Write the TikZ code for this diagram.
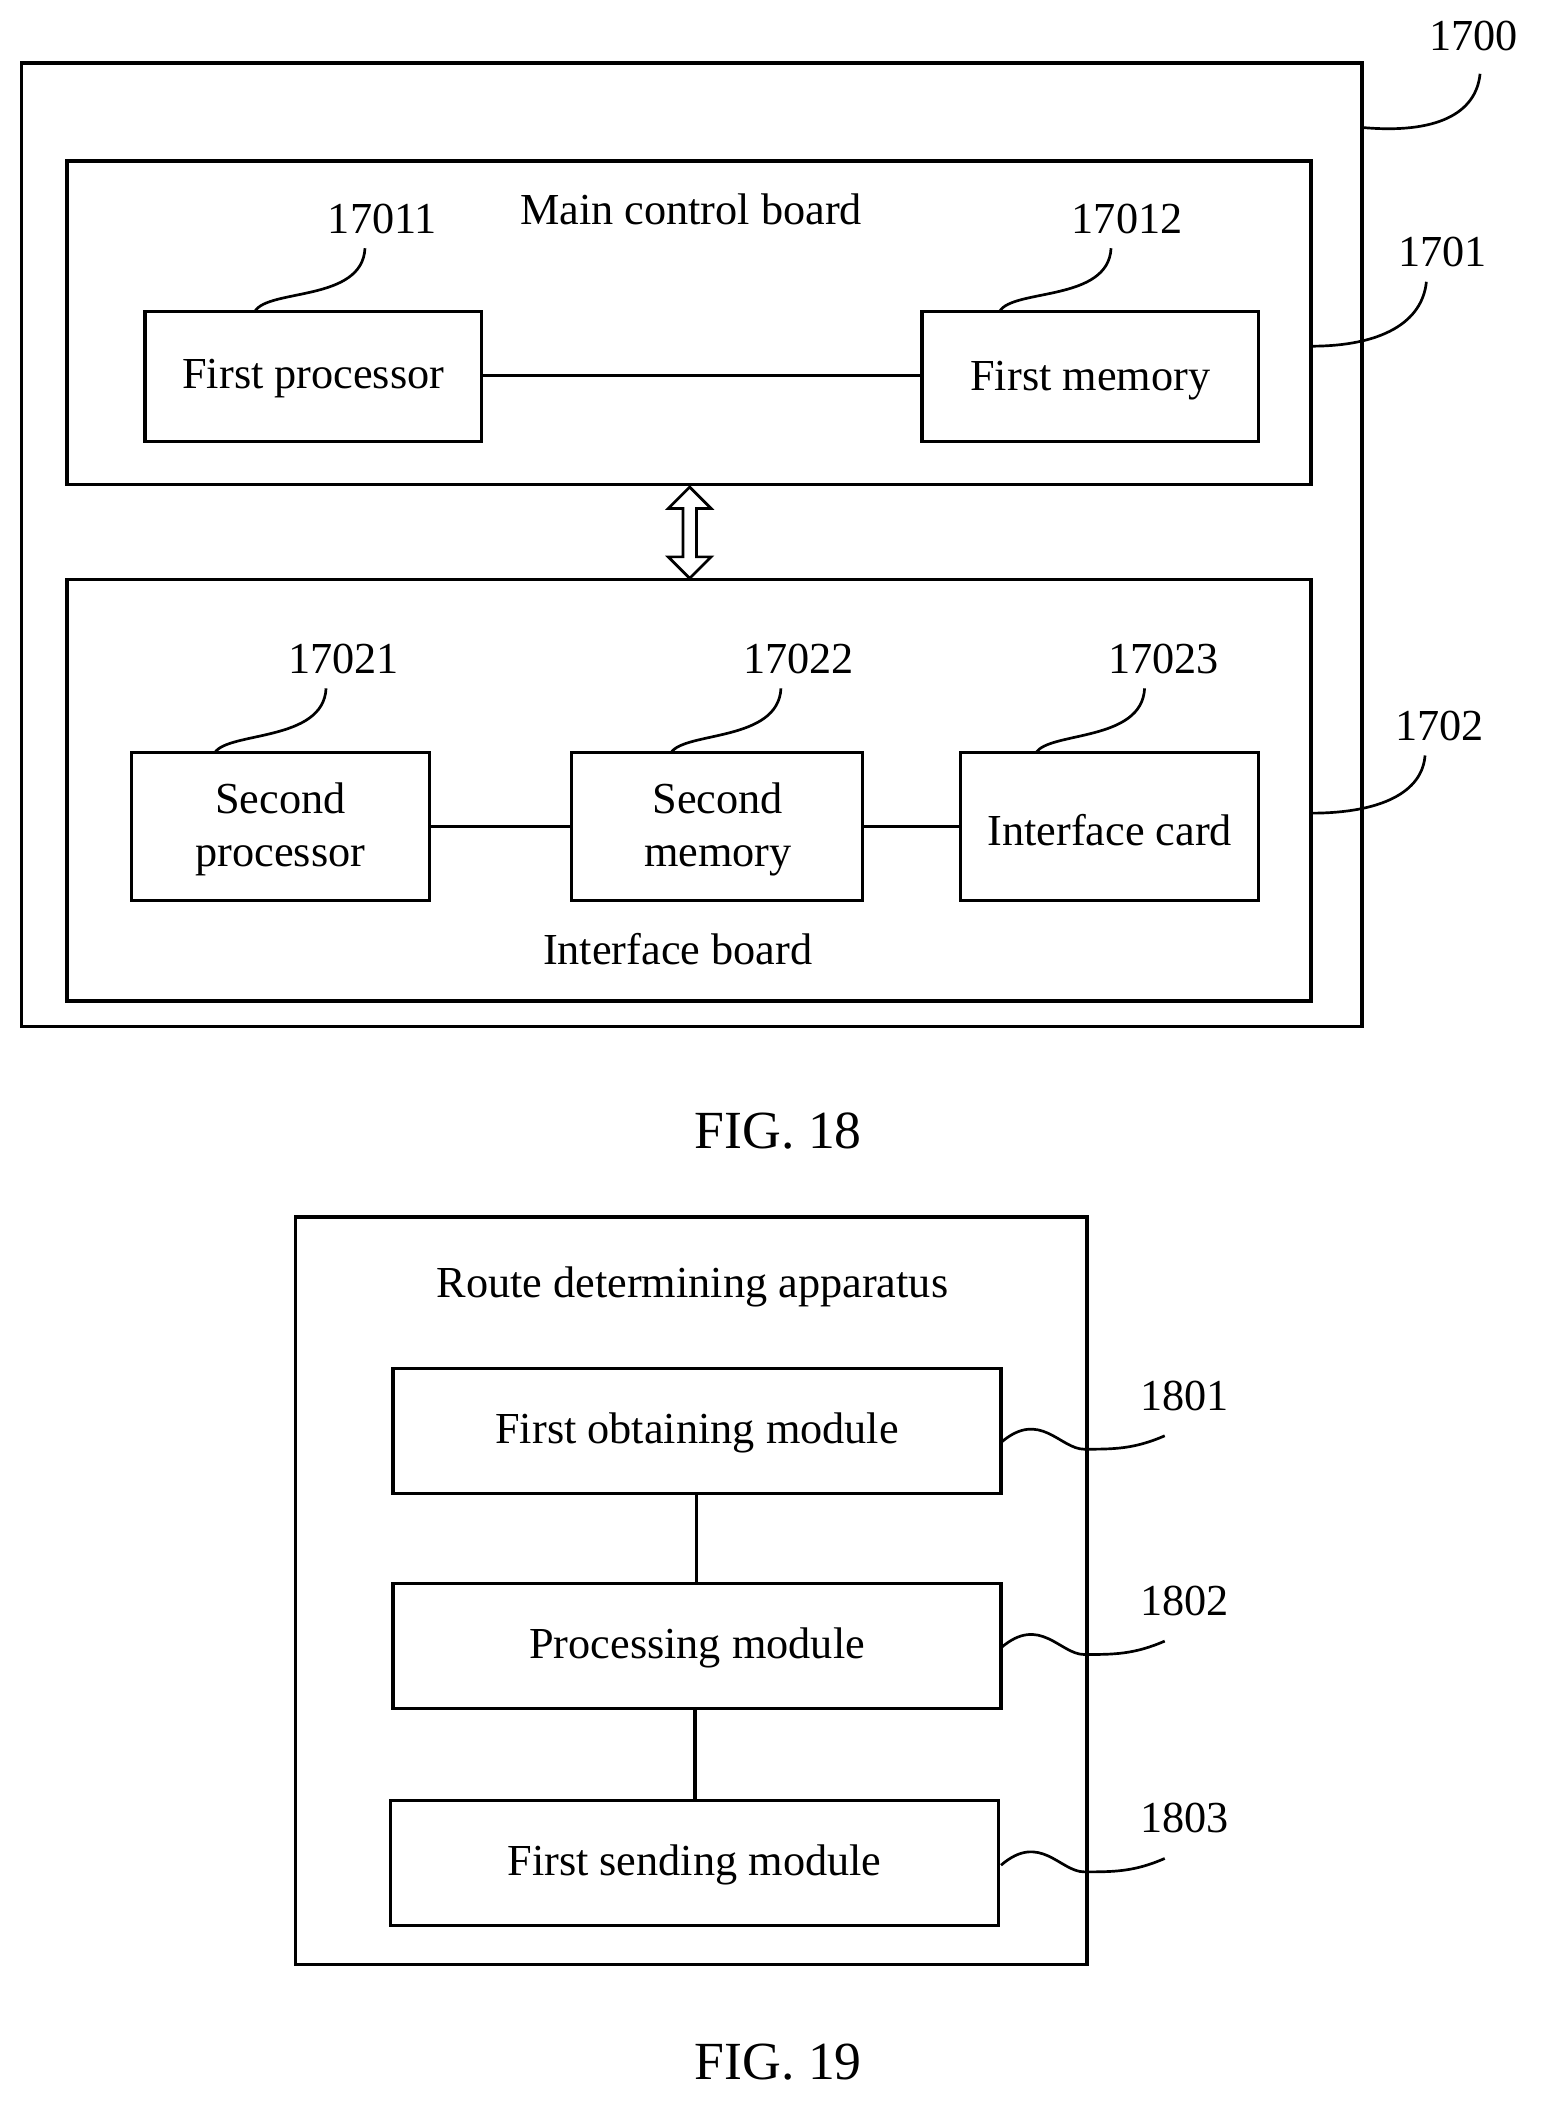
\documentclass[tikz,border=0pt]{standalone}
\usepackage{fontspec}
\setmainfont{Liberation Serif}
\begin{document}
\begin{tikzpicture}[x=1pt,y=-1pt,line width=2.5pt,
 box/.style={draw,inner sep=0},
 t/.style={font=\fontsize{33}{39}\selectfont,align=center},
 lead/.style={line width=2pt}]
\useasboundingbox (0,0) rectangle (1148,1568);
% FIG 18
\draw (16,47) rectangle (1015,765);
\draw (50,120) rectangle (977,361);
\node[t] at (515,156) {Main control board};
\draw (108,232) rectangle (359,329);
\node[t] (p1) at (233.5,282) {First processor};
\draw (687,232) rectangle (938,329);
\node[t] (m1) at (812.5,284) {First memory};
\draw (359,280) -- (687,280);
\node[t] at (285,163) {17011};
\draw[lead] (272,185) .. controls (270,225) and (200,215) .. (190,232);
\node[t] at (840,163) {17012};
\draw[lead] (828,185) .. controls (826,225) and (755,215) .. (745,232);
\node[t] at (1098,27) {1700};
\draw[lead] (1015,95) .. controls (1070,100) and (1100,85) .. (1103,55);
\node[t] at (1075,188) {1701};
\draw[lead] (977,258) .. controls (1030,258) and (1060,240) .. (1063,210);
\draw[line width=2pt] (514,363) -- (498,379) -- (509,379) -- (509,415) -- (498,415) -- (514,431) -- (530,415) -- (519,415) -- (519,379) -- (530,379) -- cycle;
\draw (50,432) rectangle (977,746);
\node[t] at (505,707) {Interface board};
\draw (98,561) rectangle (320,671);
\node[t] at (209,618) {Second\\processor};
\draw (426,561) rectangle (643,671);
\node[t] at (535,618) {Second\\memory};
\draw (716,561) rectangle (938,671);
\node[t] at (827,619) {Interface card};
\draw (320,616) -- (426,616) (643,616) -- (716,616);
\node[t] at (256,491) {17021};
\draw[lead] (243,513) .. controls (241,553) and (170,545) .. (160,561);
\node[t] at (595,491) {17022};
\draw[lead] (582,513) .. controls (580,553) and (510,545) .. (500,561);
\node[t] at (867,491) {17023};
\draw[lead] (853,513) .. controls (851,553) and (782,545) .. (772,561);
\node[t] at (1073,541) {1702};
\draw[lead] (977,606) .. controls (1030,606) and (1060,590) .. (1062,563);
\node[t,font=\fontsize{40}{42}\selectfont] at (580,843) {FIG. 18};
% FIG 19
\draw (220,907) rectangle (810,1464);
\node[t] at (516,959) {Route determining apparatus};
\draw (293,1020) rectangle (746,1113);
\node[t] at (519.5,1068) {First obtaining module};
\draw (293,1180) rectangle (746,1273);
\node[t] at (519.5,1228) {Processing module};
\draw (291,1342) rectangle (744,1435);
\node[t] at (517.5,1390) {First sending module};
\draw (519,1113) -- (519,1180) (518,1273) -- (518,1342);
\foreach \y/\l in {1075/1801,1228/1802,1390/1803}{
 \node[t] at (883,\y-35) {\l};
 \draw[lead] (746,\y) .. controls (775,\y-25) and (790,\y+5) .. (808,\y+5) .. controls (830,\y+5) and (845,\y+5) .. (868,\y-5);
}
\node[t,font=\fontsize{40}{42}\selectfont] at (580,1537) {FIG. 19};
\end{tikzpicture}
\end{document}
